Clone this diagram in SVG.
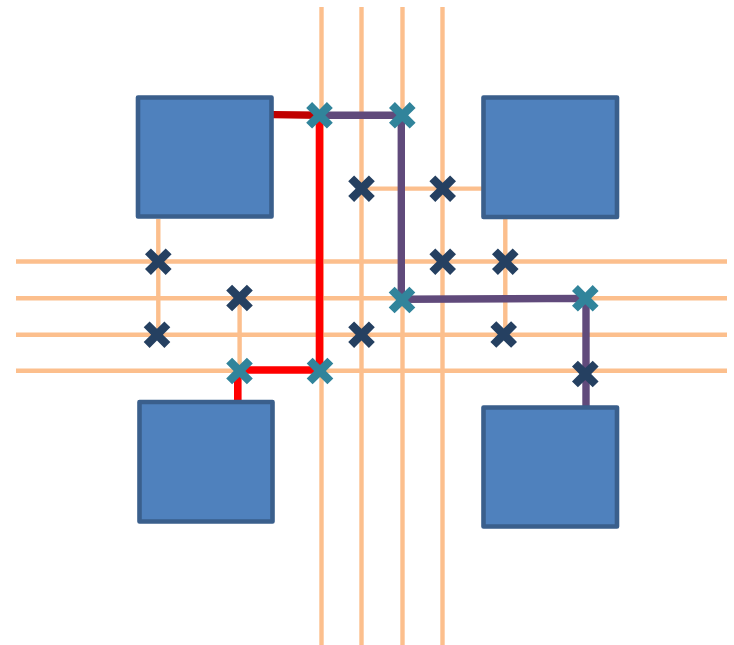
<svg xmlns="http://www.w3.org/2000/svg" xmlns:xlink="http://www.w3.org/1999/xlink" width="734" height="645" viewBox="0 0 734 645">
<style>
.track{stroke:#fcbf8d;stroke-width:4.4;fill:none}
.red{stroke:#ff0000;stroke-width:7.6;fill:none}
.dred{stroke:#c00000;stroke-width:7.4;fill:none}
.pur{stroke:#604a7b;stroke-width:7.4;fill:none}
.box{fill:#4f81bd;stroke:#3a5f8c;stroke-width:4.6;stroke-linejoin:round}
.navy{fill:#254061}
.teal{fill:#31849b}
</style>
<defs>
<path id="x" d="M-7.4,-13.300 L0,-5.900 L7.400,-13.300 L13.300,-7.400 L5.900,0 L13.300,7.400 L7.400,13.300 L0,5.900 L-7.400,13.300 L-13.300,7.400 L-5.900,0 L-13.300,-7.400 Z"/>
</defs>
<g id="connectors">
<path class="track" d="M321.5,7V645M361.5,7V645M402.5,7V645M442.5,7V645"/>
<path class="track" d="M16,261.5H727M16,298.3H727M16,334.7H727M16,370.8H727"/>
<path class="track" d="M158.3,219V335M239.6,298V371M361.5,188.6H482M505.3,219V335"/>
<path class="dred" d="M273,114.6L320,115.2"/>
<path class="red" d="M319.5,115V371M238.5,370H320M237.8,370V400"/>
<path class="pur" d="M320,115.3H402M401.3,115V299M401,299.2L586,298.4M586,298V406"/>
</g>
<g id="box-top-left"><rect class="box" x="138" y="97.5" width="133.5" height="119"/></g>
<g id="box-top-right"><rect class="box" x="483.5" y="97.5" width="133.5" height="119.500"/></g>
<g id="box-bottom-left"><rect class="box" x="139.500" y="402" width="133" height="119.500"/></g>
<g id="box-bottom-right"><rect class="box" x="483.5" y="407.5" width="133.5" height="119"/></g>
<g id="switch-1"><use xlink:href="#x" href="#x" class="navy" x="158.300" y="261.700"/></g>
<g id="switch-2"><use xlink:href="#x" href="#x" class="navy" x="239.500" y="298"/></g>
<g id="switch-3"><use xlink:href="#x" href="#x" class="navy" x="157" y="334.700"/></g>
<g id="switch-4"><use xlink:href="#x" href="#x" class="navy" x="361.500" y="188.700"/></g>
<g id="switch-5"><use xlink:href="#x" href="#x" class="navy" x="361.500" y="334.700"/></g>
<g id="switch-6"><use xlink:href="#x" href="#x" class="navy" x="442.700" y="188.700"/></g>
<g id="switch-7"><use xlink:href="#x" href="#x" class="navy" x="442.700" y="261.700"/></g>
<g id="switch-8"><use xlink:href="#x" href="#x" class="navy" x="505.300" y="261.700"/></g>
<g id="switch-9"><use xlink:href="#x" href="#x" class="navy" x="503.700" y="334.500"/></g>
<g id="switch-10"><use xlink:href="#x" href="#x" class="navy" x="585.300" y="374"/></g>
<g id="switch-on-1"><use xlink:href="#x" href="#x" class="teal" x="319.500" y="115.300"/></g>
<g id="switch-on-2"><use xlink:href="#x" href="#x" class="teal" x="402.300" y="115.300"/></g>
<g id="switch-on-3"><use xlink:href="#x" href="#x" class="teal" x="402" y="300"/></g>
<g id="switch-on-4"><use xlink:href="#x" href="#x" class="teal" x="585.300" y="298.300"/></g>
<g id="switch-on-5"><use xlink:href="#x" href="#x" class="teal" x="239.500" y="371"/></g>
<g id="switch-on-6"><use xlink:href="#x" href="#x" class="teal" x="320" y="371"/></g>
</svg>
